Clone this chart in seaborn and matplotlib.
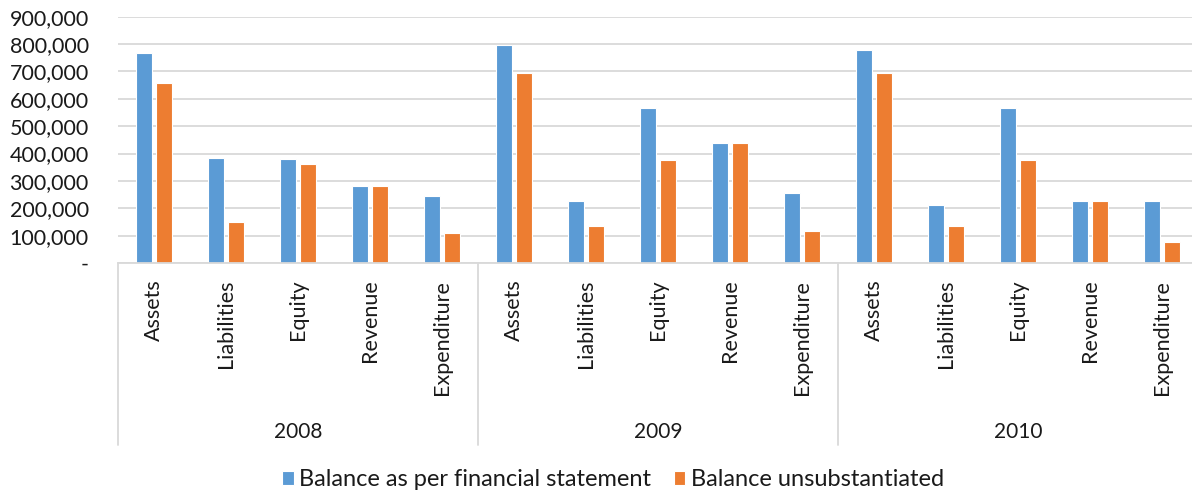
import matplotlib
matplotlib.use("Agg")
import matplotlib.pyplot as plt
import matplotlib.transforms as mtransforms
import pandas as pd
import seaborn as sns
from matplotlib.ticker import FuncFormatter

# Balances by year and account
years = ["2008", "2009", "2010"]
accounts = ["Assets", "Liabilities", "Equity", "Revenue", "Expenditure"]
per_statement = [767000, 384000, 380000, 280000, 246000,
                 796000, 226000, 568000, 440000, 254000,
                 780000, 212000, 567000, 226000, 227000]
unsubstantiated = [657000, 150000, 363000, 280000, 109000,
                   695000, 134000, 377000, 439000, 116000,
                   694000, 135000, 377000, 226000, 78000]
series_names = ["Balance as per financial statement", "Balance unsubstantiated"]
colors = ["#5B9BD5", "#ED7D31"]

keys = [f"{y} {a}" for y in years for a in accounts]
df = pd.DataFrame({
    "key": keys * 2,
    "series": [series_names[0]] * len(keys) + [series_names[1]] * len(keys),
    "value": per_statement + unsubstantiated,
})

sns.set_theme(style="white")
plt.rcParams["font.family"] = ["Lato", "DejaVu Sans"]
text_color = "#1a1a1a"
grid_color = "#d9d9d9"

W, H = 1192, 496
fig = plt.figure(figsize=(W / 100, H / 100), dpi=100)
left_px, right_px, top_px, bottom_px = 118, 1192, 16.7, 263
ax = fig.add_axes([left_px / W, (H - bottom_px) / H,
                   (right_px - left_px) / W, (bottom_px - top_px) / H])

sns.barplot(data=df, x="key", y="value", hue="series", order=keys,
            hue_order=series_names, palette=colors, saturation=1,
            width=0.54, gap=0.18, edgecolor="white", linewidth=0.8,
            ax=ax, legend=True)
handles, labels = ax.get_legend_handles_labels()
ax.get_legend().remove()

slot_px = 72
ax.set_xlim(-0.5, -0.5 + (right_px - left_px) / slot_px)
ax.set_ylim(0, 900000)
ax.set_yticks(range(0, 900001, 100000))
ax.yaxis.set_major_formatter(FuncFormatter(lambda v, p: "-" if v == 0 else f"{v:,.0f}"))
ax.set_xticks(range(len(keys)))
ax.set_xticklabels([a for _ in years for a in accounts], rotation=90)
ax.set_xlabel("")
ax.set_ylabel("")

ax.grid(axis="y", color=grid_color, linewidth=1.3)
ax.set_axisbelow(True)
for s in ["top", "right", "left"]:
    ax.spines[s].set_visible(False)
ax.spines["bottom"].set_color(grid_color)
ax.spines["bottom"].set_linewidth(1.3)

ax.tick_params(axis="y", length=0, pad=21, labelsize=15.5, labelcolor=text_color)
ax.tick_params(axis="x", length=0, pad=12, labelsize=15.5, labelcolor=text_color)

# Multi-level category axis: group separators and year labels
axes_h = bottom_px - top_px
sep_bottom = -(445 - bottom_px) / axes_h
year_y = -(432 - bottom_px) / axes_h
trans = mtransforms.blended_transform_factory(ax.transData, ax.transAxes)
for i in range(len(years)):
    x0 = i * len(accounts) - 0.5
    ax.plot([x0, x0], [0, sep_bottom], color=grid_color, linewidth=1.3,
            transform=trans, clip_on=False)
    ax.text(i * len(accounts) + (len(accounts) - 1) / 2, year_y, years[i],
            transform=trans, ha="center", va="center", fontsize=15,
            color=text_color)

fig.legend(handles, labels, loc="center", bbox_to_anchor=(613 / W, 1 - 480 / H),
           ncol=2, frameon=False, fontsize=17, handlelength=0.5,
           handleheight=0.5, handletextpad=0.22, columnspacing=0.95,
           labelcolor=text_color)

fig.savefig("out.png", dpi=100)
